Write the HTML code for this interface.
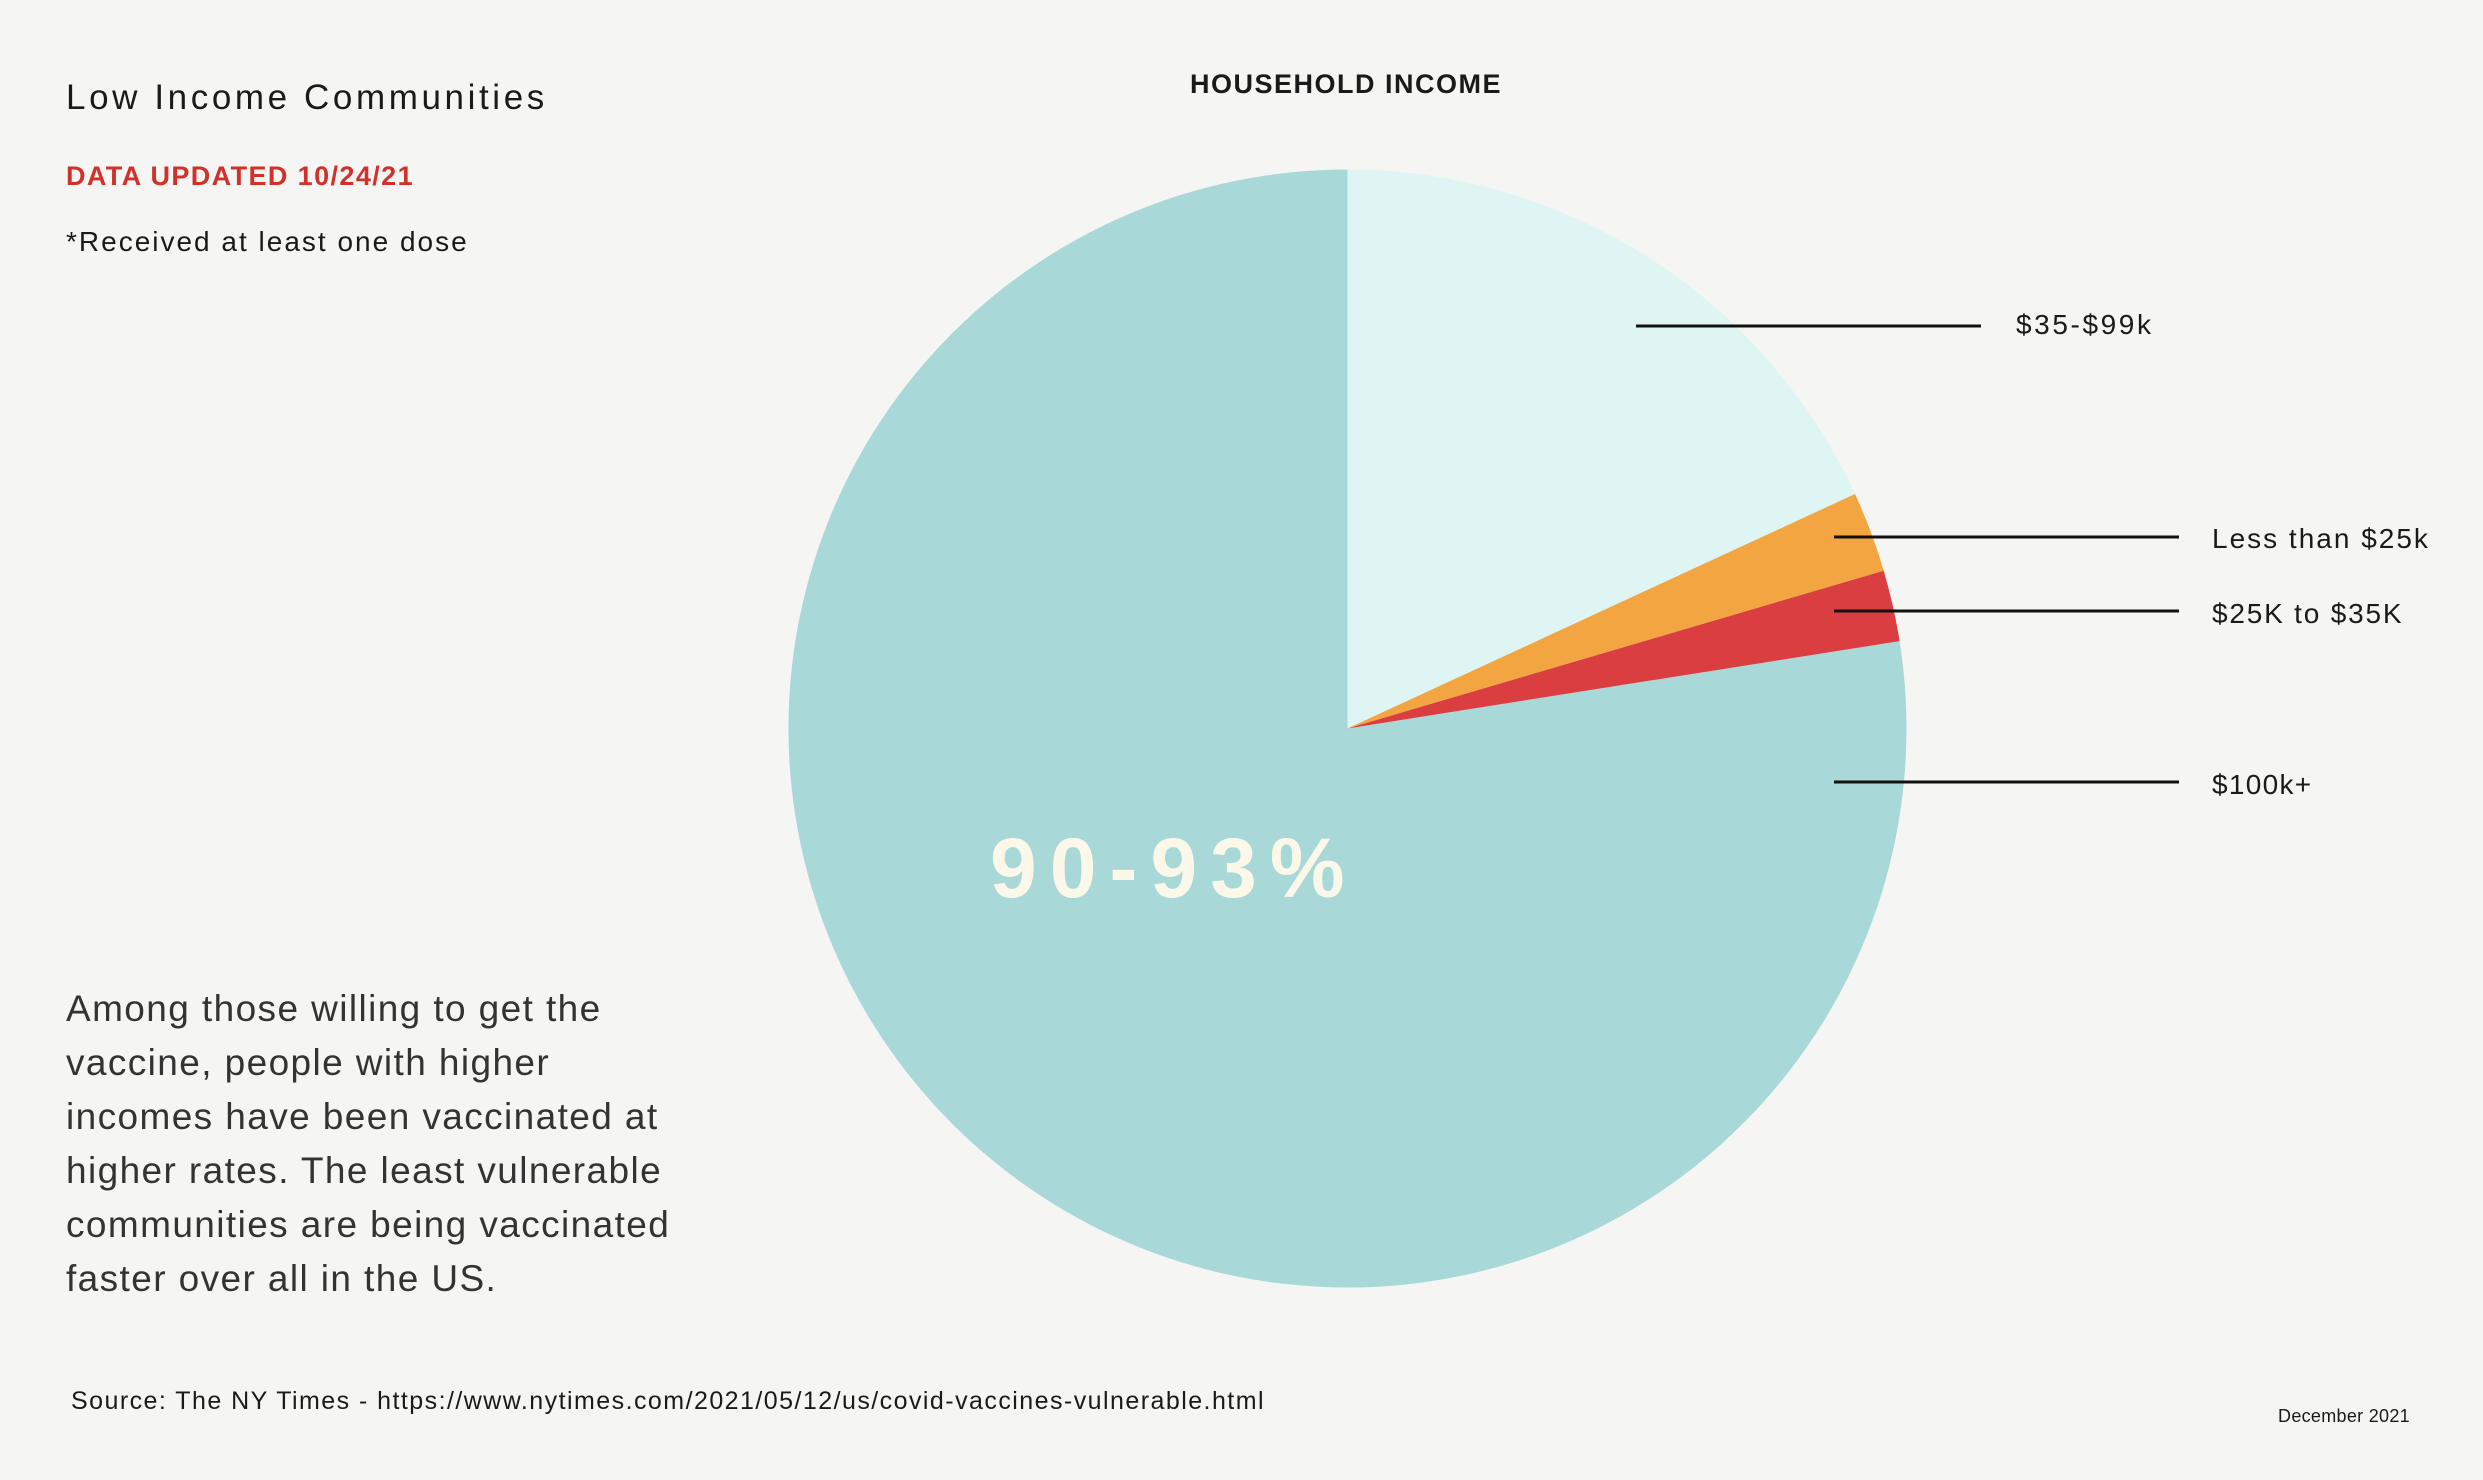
<!DOCTYPE html>
<html><head><meta charset="utf-8"><style>
html,body{margin:0;padding:0;background:#f5f5f3;}
body{width:2483px;height:1480px;position:relative;overflow:hidden;font-family:"Liberation Sans",sans-serif;color:#1a1a1a;}
.t{position:absolute;white-space:nowrap;line-height:1;}
</style></head><body>
<svg width="2483" height="1480" style="position:absolute;left:0;top:0">
<path d="M1347.5,728.5 L1899.6,641.1 A559,559 0 1,1 1347.5,169.5 Z" fill="#a8d8d8"/>
<path d="M1347.5,728.5 L1347.5,169.5 A559,559 0 0,1 1855,494 Z" fill="#dff5f3"/>
<path d="M1347.5,728.5 L1855,494 A559,559 0 0,1 1883.7,570.7 Z" fill="#f2a541"/>
<path d="M1347.5,728.5 L1883.7,570.7 A559,559 0 0,1 1899.6,641.1 Z" fill="#db3e40"/>
<g stroke="#111" stroke-width="3">
<line x1="1636" y1="326" x2="1981" y2="326"/>
<line x1="1834" y1="537" x2="2179" y2="537"/>
<line x1="1834" y1="611" x2="2179" y2="611"/>
<line x1="1834" y1="782" x2="2179" y2="782"/>
</g>
</svg>
<div class="t" style="left:66px;top:80px;font-size:35px;letter-spacing:3.6px;">Low Income Communities</div>
<div class="t" style="left:66px;top:163px;font-size:27px;font-weight:bold;color:#d0322b;letter-spacing:1.4px;">DATA UPDATED 10/24/21</div>
<div class="t" style="left:66px;top:228px;font-size:28px;letter-spacing:2px;">*Received at least one dose</div>
<div class="t" style="left:1190px;top:71px;font-size:27px;font-weight:bold;letter-spacing:1.5px;">HOUSEHOLD INCOME</div>
<div class="t" style="left:2016px;top:311px;font-size:28px;letter-spacing:2.6px;">$35-$99k</div>
<div class="t" style="left:2212px;top:525px;font-size:28px;letter-spacing:2px;">Less than $25k</div>
<div class="t" style="left:2212px;top:600px;font-size:28px;letter-spacing:1.8px;">$25K to $35K</div>
<div class="t" style="left:2212px;top:771px;font-size:28px;letter-spacing:1.3px;">$100k+</div>
<div class="t" style="left:990px;top:826px;font-size:84px;font-weight:bold;color:#fbf8ea;letter-spacing:13px;">90-93%</div>
<div style="position:absolute;left:66px;top:982px;font-size:37px;line-height:54px;font-weight:300;color:#333;width:800px;letter-spacing:1.4px;">Among those willing to get the<br>vaccine, people with higher<br>incomes have been vaccinated at<br>higher rates. The least vulnerable<br>communities are being vaccinated<br>faster over all in the US.</div>
<div class="t" style="left:71px;top:1389px;font-size:25px;letter-spacing:1.45px;">Source: The NY Times - https://www.nytimes.com/2021/05/12/us/covid-vaccines-vulnerable.html</div>
<div class="t" style="right:73px;top:1407px;font-size:18px;letter-spacing:0.3px;">December 2021</div>
</body></html>
